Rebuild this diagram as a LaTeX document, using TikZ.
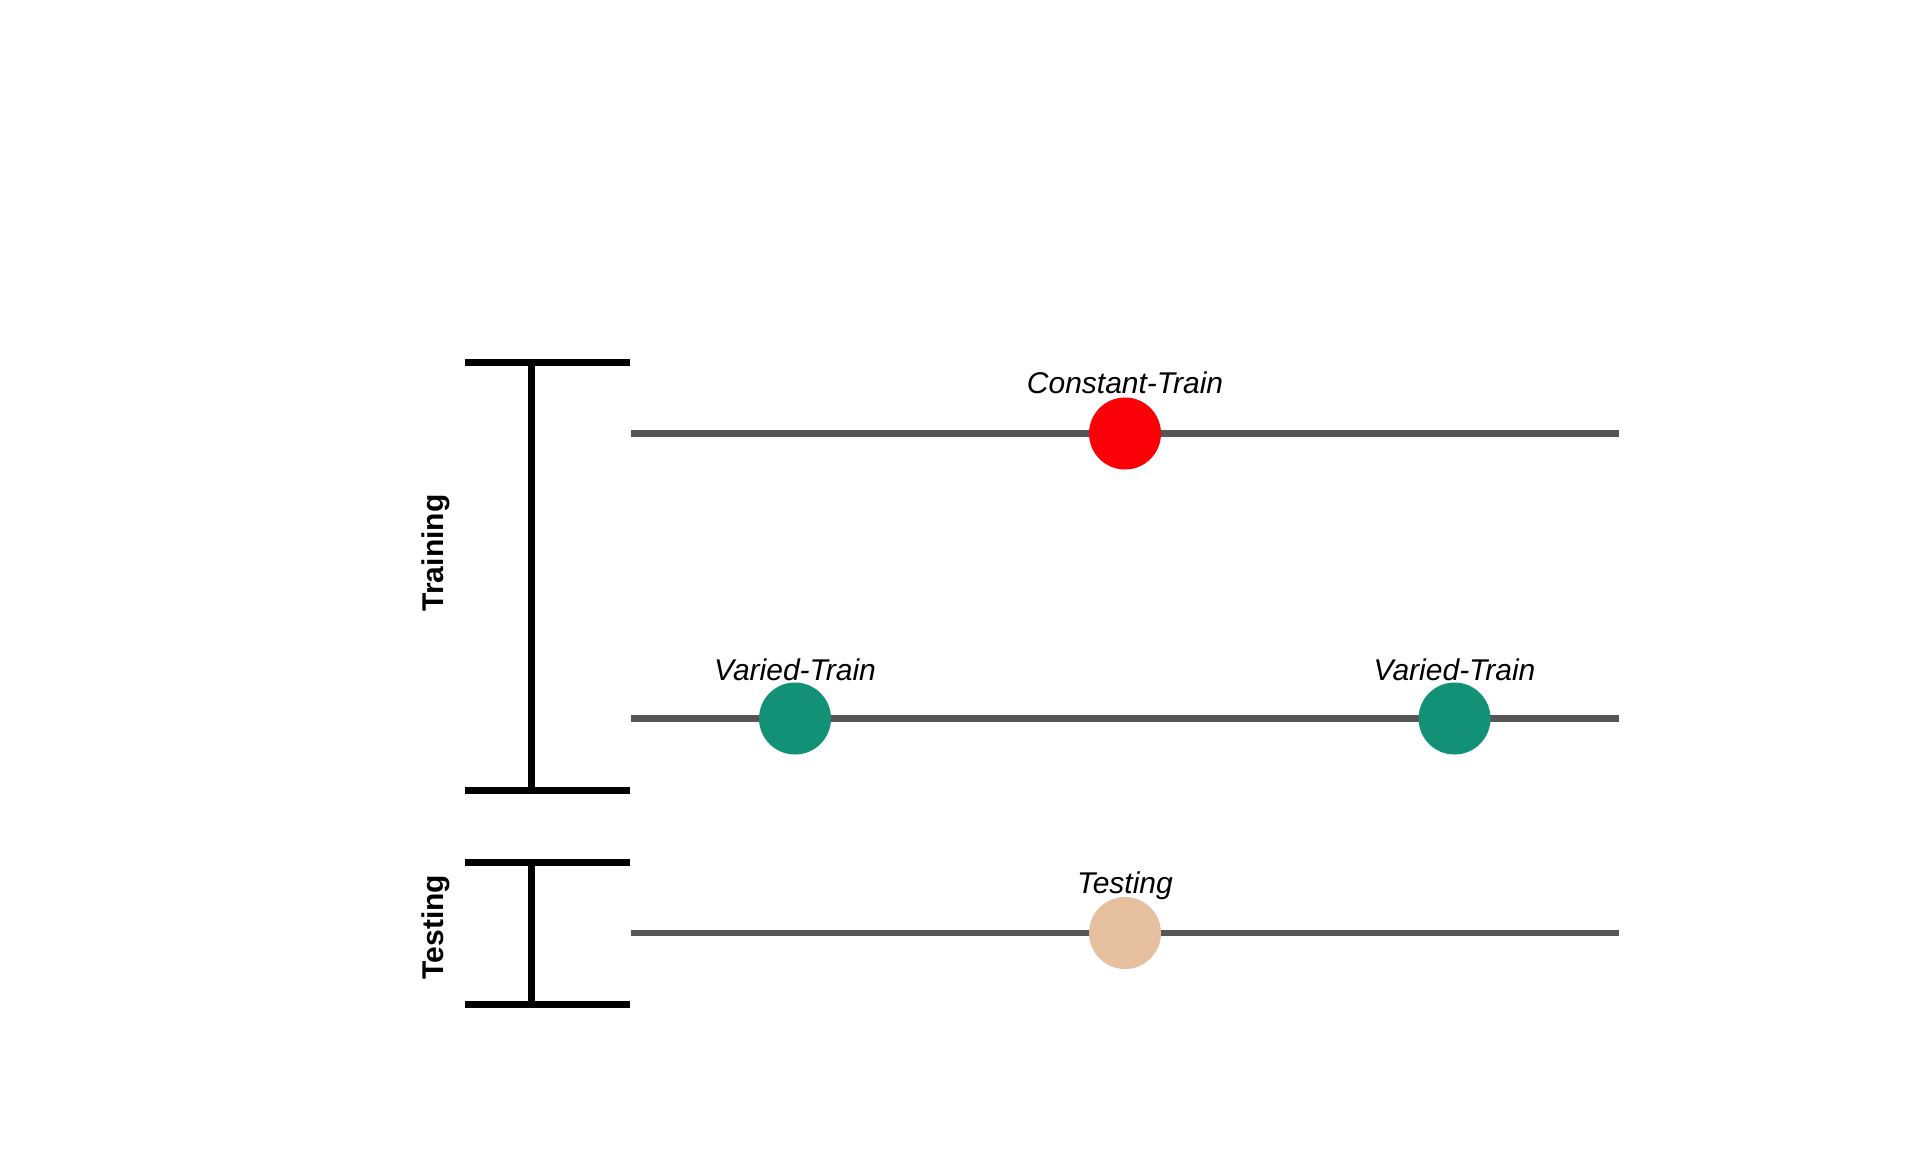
\documentclass[tikz,border=0pt]{standalone}
\usepackage{fontspec}
\setmainfont{Liberation Sans}
\definecolor{trackgray}{HTML}{555555}
\definecolor{constred}{HTML}{FB0007}
\definecolor{variedgreen}{HTML}{139177}
\definecolor{testtan}{HTML}{E6C09E}
\begin{document}
\begin{tikzpicture}[x=0.5pt,y=-0.5pt,
  track/.style={draw=trackgray,line width=3.25pt},
  brack/.style={draw=black,line width=3.5pt},
  dot/.style={circle,inner sep=0pt,minimum size=36pt},
  lab/.style={font=\fontsize{15pt}{18pt}\selectfont\itshape,anchor=base},
  grp/.style={font=\fontsize{15pt}{18pt}\selectfont\bfseries,anchor=base,rotate=90}]
\useasboundingbox (0,0) rectangle (1920,1152);
% tracks
\coordinate (t1s) at (631,433.5); \coordinate (t1e) at (1619,433.5);
\coordinate (t2s) at (631,718.5); \coordinate (t2e) at (1619,718.5);
\coordinate (t3s) at (631,933);   \coordinate (t3e) at (1619,933);
\draw[track] (t1s) -- (t1e);
\draw[track] (t2s) -- (t2e);
\draw[track] (t3s) -- (t3e);
% brackets
\coordinate (a1) at (465,362); \coordinate (a2) at (630,362);
\coordinate (a3) at (465,790.5); \coordinate (a4) at (630,790.5);
\coordinate (av1) at (531.5,362); \coordinate (av2) at (531.5,790.5);
\draw[brack] (a1) -- (a2);
\draw[brack] (a3) -- (a4);
\draw[brack] (av1) -- (av2);
\coordinate (b1) at (465,862); \coordinate (b2) at (630,862);
\coordinate (b3) at (465,1004); \coordinate (b4) at (630,1004);
\coordinate (bv1) at (531.5,862); \coordinate (bv2) at (531.5,1004);
\draw[brack] (b1) -- (b2);
\draw[brack] (b3) -- (b4);
\draw[brack] (bv1) -- (bv2);
% dots
\node[dot,fill=constred] (cdot) at (1125,433.5) {};
\node[dot,fill=variedgreen] (vdot1) at (795,718.5) {};
\node[dot,fill=variedgreen] (vdot2) at (1454.5,718.5) {};
\node[dot,fill=testtan] (tdot) at (1125,933) {};
% labels
\node[lab] (clab) at (1125,393) {Constant-Train};
\node[lab] (vlab1) at (795,680) {Varied-Train};
\node[lab] (vlab2) at (1454.5,680) {Varied-Train};
\node[lab] (tlab) at (1125,893) {Testing};
\node[grp] (gtrain) at (443,553) {Training};
\node[grp] (gtest) at (443,927) {Testing};
\end{tikzpicture}
\end{document}
